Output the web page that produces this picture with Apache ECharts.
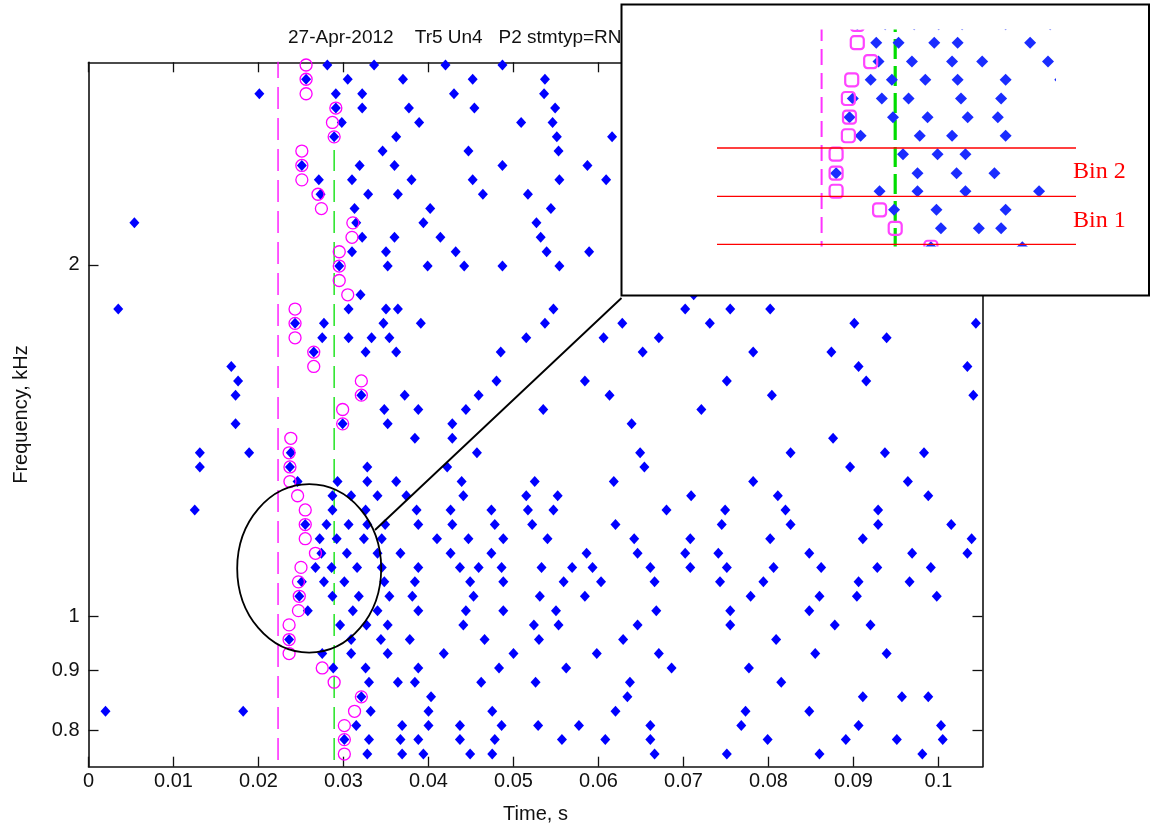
<!DOCTYPE html>
<html><head><meta charset="utf-8">
<script src="https://cdn.jsdelivr.net/npm/echarts@6/dist/echarts.min.js"></script>
<style>html,body{margin:0;padding:0;background:#fff}#c{width:1154px;height:828px}</style>
</head><body><div id="c"></div>
<script>
// ---- data (rows listed top to bottom) ----
const rowFreqs = [2.964,2.882,2.801,2.723,2.647,2.573,2.502,2.432,2.364,2.298,2.234,2.172,2.111,2.052,1.995,1.939,1.885,
  1.833,1.782,1.732,1.684,1.637,1.591,1.547,1.504,1.462,1.421,1.381,1.343,1.305,1.269,1.234,1.199,
  1.166,1.133,1.102,1.071,1.041,1.012,0.984,0.956,0.930,0.904,0.879,0.854,0.830,0.807,0.785,0.763];
const circleTimes = [0.0256,0.0256,0.0256,0.0291,0.0287,0.0289,0.0251,0.0251,0.0251,0.0270,0.0274,0.0311,0.0310,0.0295,0.0295,0.0295,0.0305,
  0.0243,0.0243,0.0243,0.0265,0.0265,0.0321,0.0321,0.0299,0.0299,0.0238,0.0236,0.0237,0.0237,0.0246,0.0255,0.0255,
  0.0255,0.0267,0.0250,0.0247,0.0248,0.0247,0.0236,0.0236,0.0236,0.0275,0.0289,0.0321,0.0313,0.0301,0.0301,0.0301];
const spikeTimes = [
  [0.0281,0.0336,0.0420,0.0487],
  [0.0256,0.0305,0.0370,0.0452,0.0537],
  [0.0201,0.0291,0.0322,0.0430,0.0536],
  [0.0291,0.0322,0.0377,0.0454,0.0549],
  [0.0298,0.0389,0.0509,0.0546],
  [0.0289,0.0362,0.0551,0.0616],
  [0.0346,0.0447,0.0553],
  [0.0251,0.0319,0.0360,0.0487,0.0587],
  [0.0271,0.0310,0.0380,0.0452,0.0554,0.0609],
  [0.0273,0.0329,0.0364,0.0464,0.0517],
  [0.0313,0.0402,0.0544],
  [0.0054,0.0315,0.0394,0.0527],
  [0.0322,0.0360,0.0414,0.0532],
  [0.0310,0.0350,0.0432,0.0539,0.0589],
  [0.0295,0.0352,0.0399,0.0442,0.0487,0.0554],
  [],
  [0.0320,0.0712],
  [0.0035,0.0306,0.0350,0.0364,0.0547,0.0702,0.0755,0.0802],
  [0.0243,0.0277,0.0347,0.0391,0.0537,0.0628,0.0731,0.0901,0.1044],
  [0.0275,0.0306,0.0333,0.0354,0.0515,0.0606,0.0671,0.0939],
  [0.0265,0.0326,0.0362,0.0485,0.0652,0.0782,0.0874],
  [0.0168,0.0906,0.1034],
  [0.0176,0.0480,0.0584,0.0751,0.0915],
  [0.0173,0.0321,0.0372,0.0459,0.0613,0.0804,0.1041],
  [0.0348,0.0388,0.0444,0.0535,0.0721],
  [0.0173,0.0299,0.0352,0.0428,0.0639],
  [0.0384,0.0428,0.0876],
  [0.0131,0.0189,0.0238,0.0457,0.0649,0.0826,0.0937,0.0983],
  [0.0131,0.0237,0.0328,0.0422,0.0654,0.0896],
  [0.0246,0.0293,0.0328,0.0362,0.0439,0.0525,0.0618,0.0782,0.0964],
  [0.0287,0.0309,0.0340,0.0374,0.0441,0.0515,0.0552,0.0709,0.0811,0.0988],
  [0.0125,0.0287,0.0326,0.0386,0.0426,0.0474,0.0517,0.0547,0.0680,0.0749,0.0820,0.0929],
  [0.0255,0.0280,0.0306,0.0328,0.0349,0.0388,0.0428,0.0478,0.0522,0.0620,0.0745,0.0826,0.0929,0.1015],
  [0.0272,0.0292,0.0324,0.0345,0.0410,0.0447,0.0488,0.0540,0.0642,0.0708,0.0802,0.0911,0.1039],
  [0.0274,0.0304,0.0340,0.0367,0.0426,0.0474,0.0586,0.0646,0.0702,0.0741,0.0848,0.0969,0.1034],
  [0.0267,0.0286,0.0316,0.0345,0.0388,0.0437,0.0459,0.0486,0.0533,0.0569,0.0593,0.0661,0.0708,0.0751,0.0806,0.0862,0.0928,0.0991],
  [0.0251,0.0277,0.0301,0.0348,0.0384,0.0449,0.0488,0.0559,0.0603,0.0666,0.0743,0.0794,0.0906,0.0966],
  [0.0248,0.0287,0.0318,0.0354,0.0381,0.0453,0.0531,0.0584,0.0779,0.0860,0.0904,0.0998],
  [0.0258,0.0311,0.0340,0.0388,0.0444,0.0488,0.0550,0.0668,0.0755,0.0848],
  [0.0296,0.0327,0.0352,0.0441,0.0524,0.0553,0.0646,0.0755,0.0878,0.0920],
  [0.0236,0.0309,0.0344,0.0378,0.0466,0.0530,0.0629,0.0809],
  [0.0275,0.0309,0.0352,0.0418,0.0500,0.0598,0.0671,0.0855,0.0939],
  [0.0288,0.0326,0.0388,0.0483,0.0562,0.0686,0.0777],
  [0.0330,0.0364,0.0384,0.0462,0.0526,0.0637,0.0815],
  [0.0321,0.0403,0.0634,0.0911,0.0957,0.0988],
  [0.0020,0.0182,0.0332,0.0400,0.0475,0.0620,0.0773,0.0848],
  [0.0315,0.0369,0.0400,0.0437,0.0486,0.0529,0.0577,0.0661,0.0768,0.0906,0.1003],
  [0.0301,0.0330,0.0367,0.0388,0.0437,0.0478,0.0557,0.0608,0.0661,0.0799,0.0891,0.0951,0.1005],
  [0.0328,0.0369,0.0394,0.0449,0.0475,0.0666,0.0751,0.0860,0.0981]
];
const xTickValues = [0,0.01,0.02,0.03,0.04,0.05,0.06,0.07,0.08,0.09,0.1];
const yTickValues = [0.8,0.9,1,2];
const magentaOnset = 0.0223, magentaSpan = [0.754, 3.2];
const greenOnset = 0.0289, greenSpan = [0.754, 2.507];
const titleText = '27-Apr-2012    Tr5 Un4   P2 stmtyp=RN';
const binLabels = ['Bin 2', 'Bin 1'];

// ---- build ----
const L = Math.log10;
const diamonds = [], circles = [];
rowFreqs.forEach((f, i) => {
  spikeTimes[i].forEach(t => diamonds.push([t, L(f)]));
  if (circleTimes[i] != null) circles.push([circleTimes[i], L(f)]);
});
const magLine = [[magentaOnset, L(magentaSpan[0])], [magentaOnset, L(magentaSpan[1])]];
const grnLine = [[greenOnset, L(greenSpan[0])], [greenOnset, L(greenSpan[1])]];
const yTickLogs = yTickValues.map(L);
const FONT = '"Liberation Sans", Arial, sans-serif';
const AX = '#111';

const chart = echarts.init(document.getElementById('c'), null, {renderer: 'canvas'});
const tickCommon = {inside: true, length: 10, lineStyle: {color: AX, width: 1.3}};
const lineCommon = {show: true, onZero: false, lineStyle: {color: AX, width: 1.6}};
chart.setOption({
  animation: false,
  backgroundColor: '#fff',
  grid: [
    {left: 88.5, top: 62.3, width: 894, height: 704.4, outerBoundsMode: 'none', containLabel: false},
    {left: 700, top: 10, width: 400, height: 255, outerBoundsMode: 'none', containLabel: false}
  ],
  xAxis: [
    {type: 'value', gridIndex: 0, position: 'bottom', min: 0, max: 0.10518,
     axisLine: lineCommon, axisTick: Object.assign({customValues: xTickValues}, tickCommon),
     splitLine: {show: false},
     axisLabel: {customValues: xTickValues, margin: 5, color: AX, fontSize: 20, fontFamily: FONT,
       hideOverlap: false, showMinLabel: true, showMaxLabel: true,
       formatter: v => String(Math.round(v * 1000) / 1000)},
     name: 'Time, s', nameLocation: 'middle', nameGap: 38,
     nameTextStyle: {color: AX, fontSize: 20, fontFamily: FONT}},
    {type: 'value', gridIndex: 0, position: 'top', min: 0, max: 0.10518,
     axisLine: lineCommon, axisTick: Object.assign({customValues: xTickValues}, tickCommon),
     splitLine: {show: false}, axisLabel: {show: false}},
    {type: 'value', gridIndex: 1, show: false, min: 0.011396, max: 0.047264}
  ],
  yAxis: [
    {type: 'value', gridIndex: 0, position: 'left', min: -0.1283, max: 0.4742,
     axisLine: lineCommon, axisTick: Object.assign({customValues: yTickLogs}, tickCommon),
     splitLine: {show: false},
     axisLabel: {customValues: yTickLogs, margin: 9, color: AX, fontSize: 20, fontFamily: FONT,
       hideOverlap: false, showMinLabel: true, showMaxLabel: true,
       formatter: v => String(Math.round(Math.pow(10, v) * 10) / 10)},
     name: 'Frequency, kHz', nameLocation: 'middle', nameGap: 57,
     nameTextStyle: {color: AX, fontSize: 20, fontFamily: FONT}},
    {type: 'value', gridIndex: 0, position: 'right', min: -0.1283, max: 0.4742,
     axisLine: lineCommon, axisTick: Object.assign({customValues: yTickLogs}, tickCommon),
     splitLine: {show: false}, axisLabel: {show: false}},
    {type: 'value', gridIndex: 1, show: false, min: -0.08028, max: 0.08832}
  ],
  series: [
    {type: 'line', xAxisIndex: 0, yAxisIndex: 0, data: magLine, symbol: 'none', clip: true, z: 2,
     lineStyle: {color: '#ff00ff', width: 1.3, type: [22, 9]}},
    {type: 'line', xAxisIndex: 0, yAxisIndex: 0, data: grnLine, symbol: 'none', clip: true, z: 2,
     lineStyle: {color: '#00e000', width: 1.3, type: [22, 9]}},
    {type: 'scatter', xAxisIndex: 0, yAxisIndex: 0, data: diamonds, symbol: 'diamond', symbolSize: [10, 11], z: 3,
     itemStyle: {color: '#0000ff', opacity: 1}},
    {type: 'scatter', xAxisIndex: 0, yAxisIndex: 0, data: circles, symbol: 'circle', symbolSize: 12, z: 4,
     itemStyle: {color: 'rgba(0,0,0,0)', borderColor: '#ff00ff', borderWidth: 1.3, opacity: 1}},
    // inset (magnified view of the same data)
    {type: 'line', xAxisIndex: 2, yAxisIndex: 2, data: magLine, symbol: 'none', clip: true, z: 20,
     lineStyle: {color: '#ff33ff', width: 2, type: [16, 8]}},
    {type: 'line', xAxisIndex: 2, yAxisIndex: 2, data: grnLine, symbol: 'none', clip: true, z: 20,
     lineStyle: {color: '#00dd00', width: 3.2, type: [20, 7]}},
    {type: 'scatter', xAxisIndex: 2, yAxisIndex: 2, data: diamonds, symbol: 'diamond', symbolSize: [12, 12], z: 21,
     itemStyle: {color: '#1a2cff', opacity: 1}},
    {type: 'scatter', xAxisIndex: 2, yAxisIndex: 2, data: circles, symbol: 'roundRect', symbolSize: 13, z: 22,
     itemStyle: {color: 'rgba(0,0,0,0)', borderColor: '#ff44ff', borderWidth: 2.2, opacity: 1}}
  ],
  graphic: [
    {type: 'text', x: 288, y: 37.5, z: 1, silent: true,
     style: {text: titleText, fill: AX, fontSize: 19, fontFamily: FONT, align: 'left', verticalAlign: 'middle'}},
    {type: 'ellipse', z: 5, silent: true, shape: {cx: 309.2, cy: 568.4, rx: 72, ry: 84.2},
     style: {fill: 'none', stroke: '#000', lineWidth: 1.8}},
    {type: 'line', z: 5, silent: true, shape: {x1: 375, y1: 530, x2: 621.5, y2: 298},
     style: {stroke: '#000', lineWidth: 1.8}},
    {type: 'rect', z: 10, silent: true, shape: {x: 621, y: 4, width: 528.5, height: 292}, style: {fill: '#fff'}},
    {type: 'rect', z: 25, silent: true, shape: {x: 622.5, y: 5.5, width: 525.5, height: 24}, style: {fill: '#fff'}},
    {type: 'rect', z: 25, silent: true, shape: {x: 622.5, y: 246.5, width: 525.5, height: 48}, style: {fill: '#fff'}},
    {type: 'rect', z: 25, silent: true, shape: {x: 1056, y: 29, width: 92, height: 218}, style: {fill: '#fff'}},
    {type: 'rect', z: 30, silent: true, shape: {x: 621.5, y: 4.5, width: 527.5, height: 291},
     style: {fill: 'none', stroke: '#000', lineWidth: 2}},
    {type: 'line', z: 30, silent: true, shape: {x1: 717, y1: 148, x2: 1076, y2: 148}, style: {stroke: '#ff0000', lineWidth: 1.3}},
    {type: 'line', z: 30, silent: true, shape: {x1: 717, y1: 196.3, x2: 1076, y2: 196.3}, style: {stroke: '#ff0000', lineWidth: 1.3}},
    {type: 'line', z: 30, silent: true, shape: {x1: 717, y1: 244.3, x2: 1076, y2: 244.3}, style: {stroke: '#ff0000', lineWidth: 1.3}},
    {type: 'text', x: 1073, y: 171.7, z: 30, silent: true,
     style: {text: binLabels[0], fill: '#ff0000', fontSize: 24, fontFamily: '"Liberation Serif", "DejaVu Serif", serif', align: 'left', verticalAlign: 'middle'}},
    {type: 'text', x: 1073, y: 220.3, z: 30, silent: true,
     style: {text: binLabels[1], fill: '#ff0000', fontSize: 24, fontFamily: '"Liberation Serif", "DejaVu Serif", serif', align: 'left', verticalAlign: 'middle'}}
  ]
});
</script>
</body></html>
